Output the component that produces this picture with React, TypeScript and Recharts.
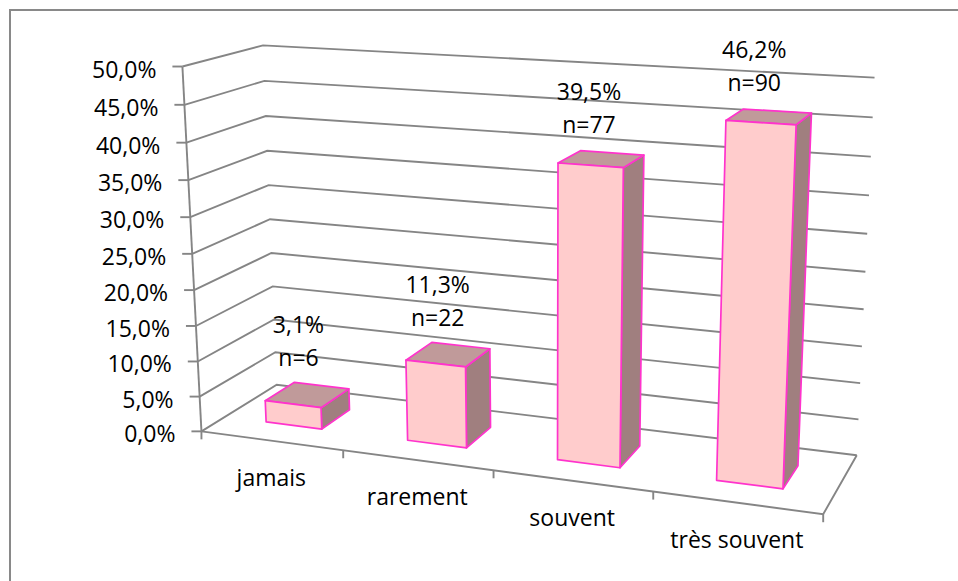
import React from "react";
import { BarChart, Bar, XAxis, YAxis, CartesianGrid, LabelList } from "recharts";

// data
const categories = ["jamais", "rarement", "souvent", "très souvent"];
const percentages = [3.1, 11.3, 39.5, 46.2];
const counts = [6, 22, 77, 90];
const yTicks = [0, 5, 10, 15, 20, 25, 30, 35, 40, 45, 50];

const data = categories.map((name, i) => ({ name, pct: percentages[i], n: counts[i] }));

const CHART_W = 958;
const CHART_H = 581;
// flat plot area that recharts lays out (margins + axis sizes below)
const PLOT = { left: 100, top: 81, width: 800, height: 400 };
const DEPTH_FRONT = 0.3;
const DEPTH_BACK = 0.7;

const FONT = "'Open Sans', 'Noto Sans', sans-serif";
const FONT_SIZE = 23;
const GRID = "#858585";
const GRID_W = 1.9;
const FRONT = "#FFCCCC";
const TOP = "#C09A9A";
const SIDE = "#A07F7F";
const EDGE = "#FF33CC";

// screen positions of the 3D box corners, used to fit a perspective camera
// [u, v, w, screenX | null, screenY]
const cameraPoints: [number, number, number, number | null, number][] = [
  [0, 0, 0, 202, 431],
  [0, 1, 0, 183, 66],
  [0, 0, 1, 277, 385],
  [0, 1, 1, 262, 46],
  [1, 0, 1, 857, 454],
  [1, 1, 1, 875, 78],
  [1, 0, 0, 823, 512],
  [0.25, 0, 0, 343, 453],
  [0.5, 0, 0, 493, 473],
  [0.75, 0, 0, 653, 493],
  [0, 0.1, 0, null, 395],
  [0, 0.2, 0, null, 360],
  [0, 0.3, 0, null, 325],
  [0, 0.4, 0, null, 290],
  [0, 0.5, 0, null, 254],
  [0, 0.6, 0, null, 217],
  [0, 0.7, 0, null, 180],
  [0, 0.8, 0, null, 143],
  [0, 0.9, 0, null, 105],
];

const S = 500;

function fitCamera(): number[] {
  const rows: number[][] = [];
  const rhs: number[] = [];
  for (const [u, v, w, sx, sy] of cameraPoints) {
    if (sx !== null) {
      const x = sx / S;
      rows.push([u, v, w, 1, 0, 0, 0, 0, -x * u, -x * v, -x * w]);
      rhs.push(x);
    }
    const y = sy / S;
    rows.push([0, 0, 0, 0, u, v, w, 1, -y * u, -y * v, -y * w]);
    rhs.push(y);
  }
  const n = 11;
  const M = Array.from({ length: n }, () => new Array(n + 1).fill(0));
  rows.forEach((r, k) => {
    for (let i = 0; i < n; i++) {
      for (let j = 0; j < n; j++) M[i][j] += r[i] * r[j];
      M[i][n] += r[i] * rhs[k];
    }
  });
  for (let c = 0; c < n; c++) {
    let piv = c;
    for (let r = c + 1; r < n; r++) if (Math.abs(M[r][c]) > Math.abs(M[piv][c])) piv = r;
    const tmp = M[c];
    M[c] = M[piv];
    M[piv] = tmp;
    for (let r = 0; r < n; r++) {
      if (r === c) continue;
      const f = M[r][c] / M[c][c];
      for (let k = c; k <= n; k++) M[r][k] -= f * M[c][k];
    }
  }
  return M.map((row, i) => row[n] / row[i]);
}

const CAM = fitCamera();

function project(u: number, v: number, w: number): [number, number] {
  const p = CAM;
  const d = p[8] * u + p[9] * v + p[10] * w + 1;
  return [
    ((p[0] * u + p[1] * v + p[2] * w + p[3]) / d) * S,
    ((p[4] * u + p[5] * v + p[6] * w + p[7]) / d) * S,
  ];
}

const toU = (x: number) => (x - PLOT.left) / PLOT.width;
const toV = (y: number) => (PLOT.top + PLOT.height - y) / PLOT.height;
const pts = (list: [number, number][]) => list.map((p) => p.join(",")).join(" ");

const fmtPct = (v: number) => v.toFixed(1).replace(".", ",") + "%";

const renderGridLine = (props: any) => {
  const v = toV(props.y1);
  const wall = [project(0, v, 0), project(0, v, 1), project(1, v, 1)];
  const floor = Math.abs(v) < 1e-6;
  return (
    <g key={`grid-${props.index}-${props.y1}`} fill="none" stroke={GRID} strokeWidth={GRID_W}>
      <polyline points={pts(wall)} />
      {floor && (
        <>
          <polyline points={pts([project(0, 0, 0), project(1, 0, 0), project(1, 0, 1)])} />
          <polyline points={pts([project(0, 0, 0), project(0, 1, 0)])} />
        </>
      )}
    </g>
  );
};

const ValueTick = (props: any) => {
  const v = toV(props.y);
  const [px, py] = project(0, v, 0);
  return (
    <g>
      <line x1={px - 10} y1={py} x2={px} y2={py} stroke={GRID} strokeWidth={GRID_W} />
      <text x={px - 26} y={py + 11} textAnchor="end" fontFamily={FONT} fontSize={FONT_SIZE} fill="#000">
        {fmtPct(props.payload.value)}
      </text>
    </g>
  );
};

const CategoryTick = (props: any) => {
  const { x, payload, index } = props;
  const half = PLOT.width / categories.length / 2;
  const [px, py] = project(toU(x), 0, 0);
  const [bx, by] = project(toU(x + half), 0, 0);
  const [sx, sy] = project(toU(x - half), 0, 0);
  return (
    <g>
      <line x1={bx} y1={by} x2={bx} y2={by + 8} stroke={GRID} strokeWidth={GRID_W} />
      {index === 0 && <line x1={sx} y1={sy} x2={sx} y2={sy + 8} stroke={GRID} strokeWidth={GRID_W} />}
      <text x={px} y={py + 45} textAnchor="middle" fontFamily={FONT} fontSize={FONT_SIZE} fill="#000">
        {payload.value}
      </text>
    </g>
  );
};

const Bar3D = (props: any) => {
  const { x, y, width, height } = props;
  const u0 = toU(x);
  const u1 = toU(x + width);
  const v1 = toV(y);
  const v0 = toV(y + height);
  const f = DEPTH_FRONT;
  const b = DEPTH_BACK;
  const front = [project(u0, v0, f), project(u1, v0, f), project(u1, v1, f), project(u0, v1, f)];
  const top = [project(u0, v1, f), project(u1, v1, f), project(u1, v1, b), project(u0, v1, b)];
  const side = [project(u1, v0, f), project(u1, v0, b), project(u1, v1, b), project(u1, v1, f)];
  return (
    <g stroke={EDGE} strokeWidth={1.7} strokeLinejoin="round">
      <polygon points={pts(side)} fill={SIDE} />
      <polygon points={pts(top)} fill={TOP} />
      <polygon points={pts(front)} fill={FRONT} />
    </g>
  );
};

const BarLabel = (props: any) => {
  const vb = props.viewBox || {};
  const x = props.x ?? vb.x;
  const y = props.y ?? vb.y;
  const width = props.width ?? vb.width;
  const index = props.index;
  const [px, py] = project(toU(x + width / 2), toV(y), DEPTH_BACK);
  const lx = px - 23;
  const ly = py - 20;
  return (
    <g fontFamily={FONT} fontSize={FONT_SIZE} fill="#000" textAnchor="middle">
      <text x={lx} y={ly - 33}>{fmtPct(percentages[index])}</text>
      <text x={lx} y={ly}>{`n=${counts[index]}`}</text>
    </g>
  );
};

export default function App() {
  return (
    <div style={{ position: "absolute", left: 0, top: 0, width: CHART_W, height: CHART_H, overflow: "hidden", background: "#fff" }}>
      <div
        style={{
          position: "absolute",
          left: 9,
          top: 9,
          width: 1100,
          height: 800,
          border: "2px solid #898989",
          boxSizing: "border-box",
        }}
      />
      <BarChart
        width={CHART_W}
        height={CHART_H}
        data={data}
        margin={{ top: PLOT.top, right: CHART_W - PLOT.left - PLOT.width, bottom: 0, left: 0 }}
        barCategoryGap="30%"
        style={{ position: "absolute", left: 0, top: 0 }}
      >
        <CartesianGrid vertical={false} horizontal={renderGridLine} syncWithTicks />
        <XAxis
          dataKey="name"
          height={CHART_H - PLOT.top - PLOT.height}
          axisLine={false}
          tickLine={false}
          interval={0}
          tick={CategoryTick}
        />
        <YAxis
          domain={[0, 50]}
          ticks={yTicks}
          width={PLOT.left}
          axisLine={false}
          tickLine={false}
          interval={0}
          tick={ValueTick}
        />
        <Bar dataKey="pct" shape={Bar3D} isAnimationActive={false}>
          <LabelList dataKey="pct" content={BarLabel} />
        </Bar>
      </BarChart>
    </div>
  );
}
